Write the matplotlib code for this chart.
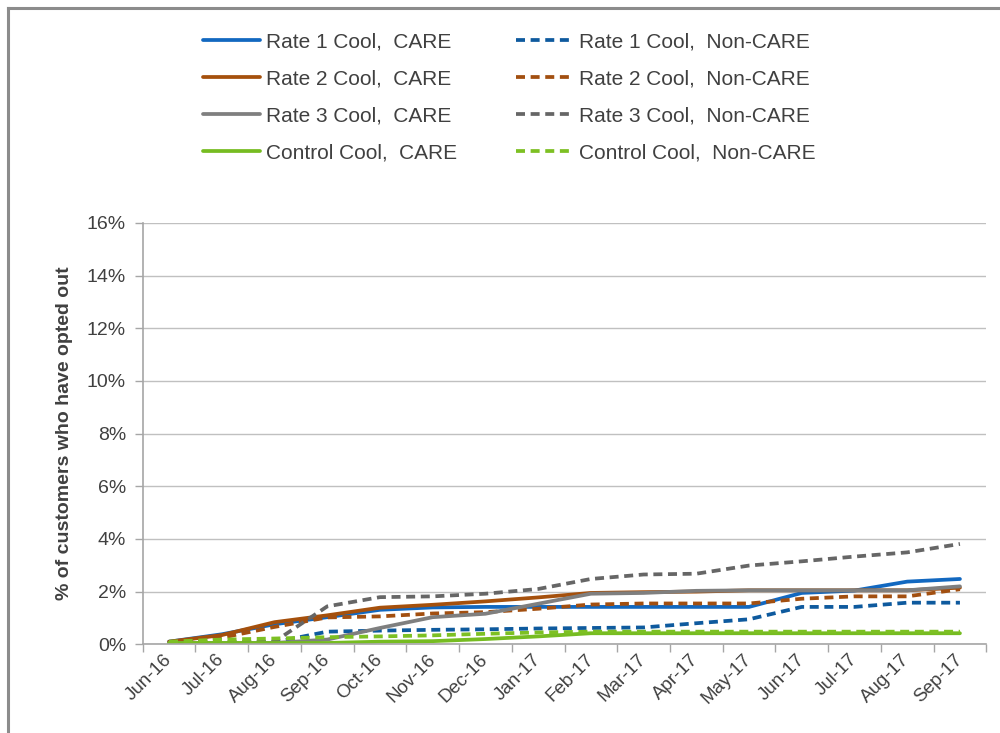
import matplotlib
matplotlib.use("Agg")
import matplotlib.pyplot as plt
from matplotlib.lines import Line2D
import numpy as np

months = ['Jun-16', 'Jul-16', 'Aug-16', 'Sep-16', 'Oct-16', 'Nov-16', 'Dec-16', 'Jan-17',
          'Feb-17', 'Mar-17', 'Apr-17', 'May-17', 'Jun-17', 'Jul-17', 'Aug-17', 'Sep-17']

rate1_care = [0.10, 0.38, 0.76, 1.03, 1.31, 1.40, 1.42, 1.42, 1.42, 1.42, 1.42, 1.42, 1.95, 2.04, 2.38, 2.48]
rate1_non = [0.05, 0.05, 0.08, 0.48, 0.52, 0.55, 0.57, 0.60, 0.62, 0.64, 0.80, 0.95, 1.42, 1.42, 1.58, 1.58]
rate2_care = [0.10, 0.35, 0.84, 1.10, 1.39, 1.50, 1.63, 1.78, 1.95, 1.98, 2.00, 2.05, 2.05, 2.05, 2.05, 2.15]
rate2_non = [0.08, 0.25, 0.66, 1.02, 1.06, 1.17, 1.22, 1.35, 1.51, 1.55, 1.55, 1.55, 1.73, 1.82, 1.82, 2.09]
rate3_care = [0.05, 0.05, 0.05, 0.18, 0.62, 1.03, 1.16, 1.54, 1.92, 1.95, 2.03, 2.05, 2.05, 2.05, 2.05, 2.20]
rate3_non = [0.08, 0.08, 0.10, 1.44, 1.79, 1.82, 1.92, 2.10, 2.48, 2.65, 2.68, 2.99, 3.15, 3.33, 3.49, 3.81]
control_care = [0.05, 0.05, 0.05, 0.05, 0.10, 0.12, 0.20, 0.30, 0.42, 0.42, 0.42, 0.42, 0.42, 0.42, 0.42, 0.42]
control_non = [0.10, 0.18, 0.22, 0.27, 0.30, 0.34, 0.40, 0.45, 0.48, 0.48, 0.48, 0.48, 0.48, 0.48, 0.48, 0.48]

yticks = [0, 2, 4, 6, 8, 10, 12, 14, 16]

series = [
    ('Rate 1 Cool,  CARE', rate1_care, '#1268C0', '-'),
    ('Rate 1 Cool,  Non-CARE', rate1_non, '#0E5A9E', '--'),
    ('Rate 2 Cool,  CARE', rate2_care, '#A5500C', '-'),
    ('Rate 2 Cool,  Non-CARE', rate2_non, '#A24F10', '--'),
    ('Rate 3 Cool,  CARE', rate3_care, '#7F7F7F', '-'),
    ('Rate 3 Cool,  Non-CARE', rate3_non, '#666666', '--'),
    ('Control Cool,  CARE', control_care, '#76BC21', '-'),
    ('Control Cool,  Non-CARE', control_non, '#7DC023', '--'),
]

plt.rcParams['font.family'] = ['Liberation Sans', 'DejaVu Sans']
text_color = '#404040'

fig = plt.figure(figsize=(10, 7.33), dpi=100)
ax = fig.add_axes([0.1427, 0.121, 0.8436, 0.575])

x = np.arange(len(months))
handles = {}
for label, vals, color, ls in series:
    if ls == '-':
        ln, = ax.plot(x, vals, color=color, lw=2.7, solid_capstyle='round', label=label)
    else:
        ln, = ax.plot(x, vals, color=color, lw=2.7, linestyle=(0, (2.4, 1.5)), label=label)
    handles[label] = ln

ax.set_xlim(-0.5, len(months) - 0.5)
ax.set_ylim(0, 16)
ax.set_yticks(yticks)
ax.set_yticklabels([f'{v}%' for v in yticks], fontsize=14, color=text_color)
ax.set_xticks(x)
ax.set_xticklabels(months, fontsize=13.5, color=text_color, rotation=45, ha='right',
                   va='center', rotation_mode='anchor')
ax.set_xticks(np.arange(-0.5, len(months)), minor=True)
ax.tick_params(axis='x', which='major', length=0, pad=9)
ax.tick_params(axis='x', which='minor', length=6, color='#A6A6A6', width=1)
ax.tick_params(axis='y', length=6, color='#A6A6A6', width=1, pad=6)

ax.grid(axis='y', color='#C0C0C0', lw=1)
ax.set_axisbelow(True)
for s in ['top', 'right']:
    ax.spines[s].set_visible(False)
for s in ['left', 'bottom']:
    ax.spines[s].set_color('#A6A6A6')
    ax.spines[s].set_linewidth(1.2)

ax.set_ylabel('% of customers who have opted out', fontsize=14, fontweight='bold',
              color=text_color, labelpad=10)

order = [series[i][0] for i in [0, 2, 4, 6, 1, 3, 5, 7]]
leg = fig.legend([handles[l] for l in order], order, loc='upper left',
                 bbox_to_anchor=(0.184, 0.981), ncol=2, frameon=False, fontsize=15,
                 handlelength=2.75, handletextpad=0.3, columnspacing=2.8,
                 labelspacing=0.86)
for t in leg.get_texts():
    t.set_color(text_color)

# outer frame (top and left edges visible)
fig.add_artist(Line2D([0.008, 1.0], [1 - 8 / 733, 1 - 8 / 733], transform=fig.transFigure,
                      color='#8C8C8C', lw=2.2))
fig.add_artist(Line2D([0.008, 0.008], [0, 1 - 8 / 733], transform=fig.transFigure,
                      color='#8C8C8C', lw=2.2))

fig.savefig('out.png', dpi=100, facecolor='white')
